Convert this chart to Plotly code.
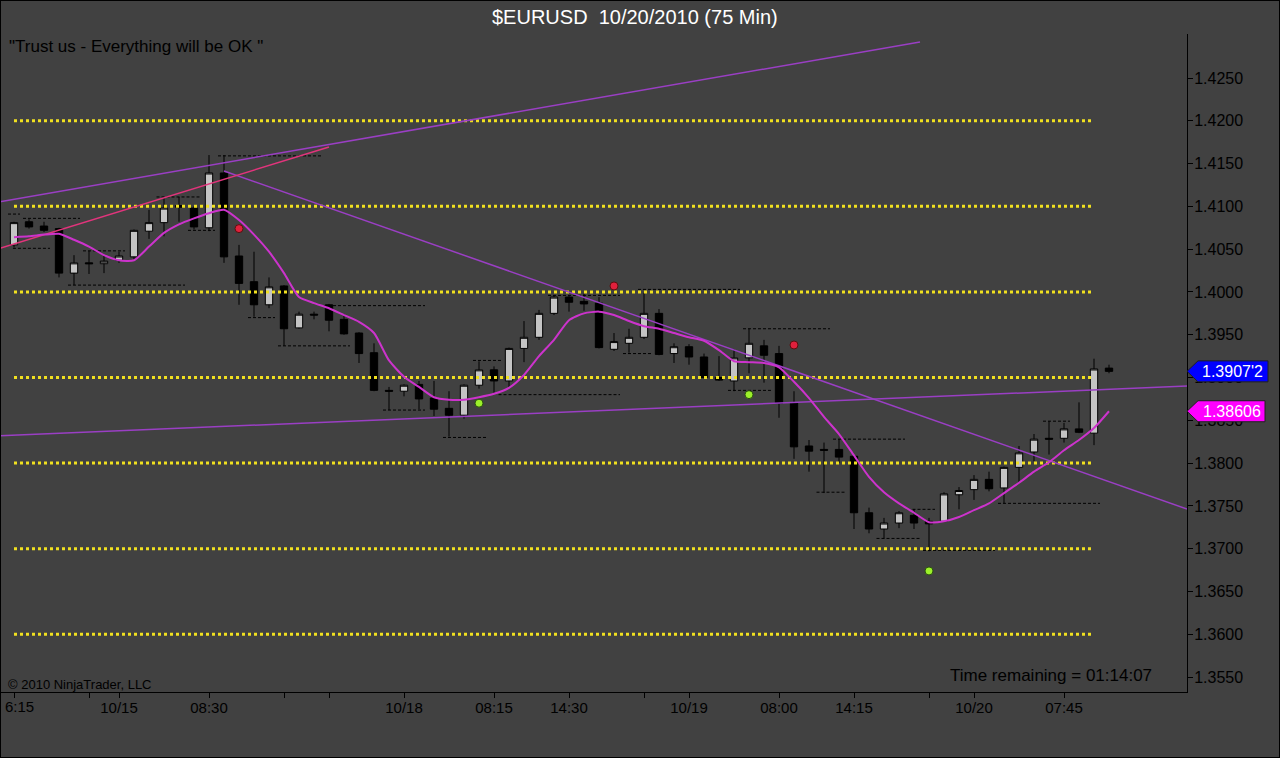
import plotly.graph_objects as go

# ---------------- data ----------------
bars = list(range(74))
opens = [1.4055, 1.4082, 1.4077, 1.4074, 1.4022, 1.4034, 1.4033, 1.4037, 1.4041, 1.4071,
         1.4081, 1.4101, 1.4098, 1.4075, 1.4139, 1.4042, 1.4012, 1.3985, 1.4007, 1.3958,
         1.3974, 1.3985, 1.3968, 1.3952, 1.3929, 1.3885, 1.3884, 1.3892, 1.3876, 1.3864,
         1.3856, 1.3891, 1.3909, 1.3896, 1.3934, 1.3947, 1.3975, 1.3994, 1.3989, 1.3987,
         1.3933, 1.3940, 1.3947, 1.3975, 1.3928, 1.3936, 1.3924, 1.3900, 1.3896, 1.3923,
         1.3937, 1.3928, 1.3870, 1.3820, 1.3816, 1.3816, 1.3808, 1.3742, 1.3723, 1.3730,
         1.3739, 1.3732, 1.3732, 1.3763, 1.3769, 1.3781, 1.3771, 1.3795, 1.3813, 1.3829,
         1.3829, 1.3840, 1.3835, 1.3911]
highs = [1.4082, 1.4085, 1.4082, 1.4075, 1.4043, 1.4048, 1.4042, 1.4047, 1.4073, 1.4096,
         1.4111, 1.4111, 1.4100, 1.4160, 1.4160, 1.4055, 1.4047, 1.4017, 1.4008, 1.3977,
         1.3977, 1.3986, 1.3974, 1.3953, 1.3940, 1.3889, 1.3892, 1.3896, 1.3896, 1.3884,
         1.3892, 1.3919, 1.3913, 1.3935, 1.3966, 1.3979, 1.3996, 1.3996, 1.3998, 1.3994,
         1.3952, 1.3957, 1.3999, 1.3980, 1.3940, 1.3939, 1.3928, 1.3925, 1.3933, 1.3957,
         1.3944, 1.3937, 1.3884, 1.3827, 1.3824, 1.3828, 1.3809, 1.3748, 1.3736, 1.3744,
         1.3746, 1.3736, 1.3766, 1.3772, 1.3786, 1.3790, 1.3796, 1.3820, 1.3834, 1.3849,
         1.3847, 1.3871, 1.3922, 1.3915]
lows = [1.4052, 1.4074, 1.4070, 1.4017, 1.4008, 1.4021, 1.4022, 1.4034, 1.4037, 1.4062,
        1.4065, 1.4082, 1.4073, 1.4071, 1.4034, 1.3985, 1.3971, 1.3981, 1.3937, 1.3957,
        1.3968, 1.3954, 1.3950, 1.3917, 1.3884, 1.3862, 1.3878, 1.3863, 1.3855, 1.3831,
        1.3852, 1.3887, 1.3882, 1.3889, 1.3918, 1.3944, 1.3973, 1.3977, 1.3978, 1.3934,
        1.3931, 1.3929, 1.3945, 1.3926, 1.3917, 1.3915, 1.3899, 1.3896, 1.3884, 1.3905,
        1.3894, 1.3853, 1.3805, 1.3790, 1.3765, 1.3800, 1.3723, 1.3718, 1.3712, 1.3724,
        1.3723, 1.3697, 1.3731, 1.3746, 1.3757, 1.3767, 1.3753, 1.3777, 1.3802, 1.3810,
        1.3824, 1.3835, 1.3821, 1.3905]
closes = [1.4081, 1.4076, 1.4072, 1.4022, 1.4034, 1.4033, 1.4036, 1.4042, 1.4072, 1.4081,
          1.4098, 1.4099, 1.4076, 1.4139, 1.4041, 1.4010, 1.3985, 1.4006, 1.3957, 1.3974,
          1.3973, 1.3967, 1.3951, 1.3928, 1.3885, 1.3884, 1.3891, 1.3875, 1.3863, 1.3856,
          1.3891, 1.3909, 1.3896, 1.3934, 1.3947, 1.3975, 1.3994, 1.3988, 1.3986, 1.3935,
          1.3942, 1.3947, 1.3975, 1.3927, 1.3936, 1.3924, 1.3900, 1.3897, 1.3923, 1.3940,
          1.3926, 1.3870, 1.3819, 1.3814, 1.3815, 1.3807, 1.3742, 1.3723, 1.3730, 1.3742,
          1.3730, 1.3729, 1.3764, 1.3768, 1.3781, 1.3770, 1.3795, 1.3812, 1.3828, 1.3828,
          1.3840, 1.3836, 1.3910, 1.39072]
ma_values = [1.4064, 1.4065, 1.4067, 1.4068, 1.4061, 1.4053, 1.4043, 1.4037, 1.4037, 1.4053,
             1.4069, 1.4079, 1.4086, 1.4092, 1.4096, 1.4084, 1.4067, 1.4047, 1.4022, 1.3994,
             1.3987, 1.3981, 1.3973, 1.3965, 1.3952, 1.3920, 1.3901, 1.3889, 1.3877, 1.3874,
             1.3874, 1.3877, 1.3881, 1.3888, 1.3903, 1.3925, 1.3944, 1.3967, 1.3975, 1.3977,
             1.3973, 1.3966, 1.3960, 1.3957, 1.3952, 1.3947, 1.3943, 1.3932, 1.3919, 1.3918,
             1.3917, 1.3912, 1.3895, 1.3876, 1.3854, 1.3834, 1.3809, 1.3784, 1.3766, 1.3753,
             1.3742, 1.3731, 1.3732, 1.3737, 1.3745, 1.3753, 1.3765, 1.3777, 1.3790, 1.3801,
             1.3815, 1.3827, 1.3841, 1.38606]

# swing dots
red_bars = [15, 40, 52]
red_prices = [1.4074, 1.4007, 1.3938]
green_bars = [31, 49, 61]
green_prices = [1.3870, 1.3880, 1.3674]

# horizontal yellow levels
yellow_levels = [1.4200, 1.4100, 1.4000, 1.3900, 1.3800, 1.3700, 1.3600]
yellow_start_bar = 0.0
yellow_end_bar = 71.9

# pivot (dashed black) segments: start bar, end bar, price
pivot_start = [-0.4, 0.6, -0.07, 4.6, 3.6, 9.5, 13.6, 11.6, 15.6, 17.6, 20.6, 24.6, 28.6, 30.6,
               32.3, 35.6, 41.6, 40.6, 48.6, 47.6, 54.6, 53.5, 57.5, 59.9, 60.6, 65.6, 68.6]
pivot_end = [0.4, 4.4, 2.4, 7.4, 11.4, 12.4, 20.5, 13.4, 17.4, 22.4, 27.4, 27.4, 31.5, 32.5,
             40.4, 40.4, 48.4, 42.5, 54.4, 50.5, 59.4, 55.5, 60.4, 61.4, 65.4, 72.4, 70.4]
pivot_price = [1.4091, 1.4086, 1.4051, 1.4048, 1.4008, 1.4111, 1.4159, 1.4072, 1.3970, 1.3937,
               1.3984, 1.3862, 1.3830, 1.3920, 1.3880, 1.3996, 1.4003, 1.3928, 1.3957, 1.3885,
               1.3828, 1.3766, 1.3712, 1.3746, 1.3698, 1.3753, 1.3849]

# trend lines (bar, price) endpoints
upper_line_bars = [-0.933, 60.4]
upper_line_prices = [1.41055, 1.42921]
lower_line_bars = [-0.933, 78.2]
lower_line_prices = [1.38319, 1.38901]
down_line_bars = [14.0, 78.2]
down_line_prices = [1.41413, 1.37464]
pink_line_bars = [-0.933, 21.0]
pink_line_prices = [1.4051, 1.41694]

# axis ticks
y_ticks = [1.3550, 1.3600, 1.3650, 1.3700, 1.3750, 1.3800, 1.3850, 1.3900, 1.3950,
           1.4000, 1.4050, 1.4100, 1.4150, 1.4200, 1.4250]
x_tick_bars = [0, 5, 7, 13, 18, 21, 26, 32, 37, 42, 45, 51, 56, 61, 64, 70]
x_tick_labels = ["", "", "10/15", "08:30", "", "", "10/18", "08:15", "14:30", "",
                 "10/19", "08:00", "14:15", "", "10/20", "07:45"]
first_tick_label = "6:15"

price_label_texts = ["1.3907'2", "1.38606"]

# ---------------- layout geometry ----------------
W, H = 1280, 758
T, B = 34, 692          # plot top / bottom pixel
R = 1187                # plot right pixel
PLOT_W = R
PLOT_H = B - T
PPX = 0.005 / 42.79     # price per pixel
Y_MAX = 1.4250 + (78 - T) * PPX
Y_MIN = 1.4250 - (B - 78) * PPX
X_MIN = -14 / 15.0
X_MAX = (R - 14) / 15.0


def px_x(p):
    return p / PLOT_W


def px_y(p):
    return (B - p) / PLOT_H


def price_to_paper(v):
    return (v - Y_MIN) / (Y_MAX - Y_MIN)


BG = "#414141"
FONT = "Arial, Liberation Sans, sans-serif"

fig = go.Figure()

# yellow dotted levels
yx, yy = [], []
for lv in yellow_levels:
    yx += [yellow_start_bar, yellow_end_bar, None]
    yy += [lv, lv, None]
fig.add_trace(go.Scatter(x=yx, y=yy, mode="lines",
                         line=dict(color="#F0E020", width=3, dash="dot"),
                         hoverinfo="skip", showlegend=False))

# pivot dashed segments
px_, py_ = [], []
for s, e, p in zip(pivot_start, pivot_end, pivot_price):
    px_ += [s, e, None]
    py_ += [p, p, None]
fig.add_trace(go.Scatter(x=px_, y=py_, mode="lines",
                         line=dict(color="#000000", width=1, dash="3px,2px"),
                         hoverinfo="skip", showlegend=False))

# candles
fig.add_trace(go.Candlestick(
    x=bars, open=opens, high=highs, low=lows, close=closes,
    increasing=dict(fillcolor="#C4C4C4", line=dict(color="#000000", width=1)),
    decreasing=dict(fillcolor="#000000", line=dict(color="#000000", width=1)),
    whiskerwidth=0, showlegend=False, hoverinfo="skip"))

# trend lines
for bx, by, col in [(upper_line_bars, upper_line_prices, "#9A3FC4"),
                    (lower_line_bars, lower_line_prices, "#9A3FC4"),
                    (down_line_bars, down_line_prices, "#9A3FC4"),
                    (pink_line_bars, pink_line_prices, "#E2347C")]:
    fig.add_trace(go.Scatter(x=bx, y=by, mode="lines", line=dict(color=col, width=1.5),
                             hoverinfo="skip", showlegend=False))

# moving average
fig.add_trace(go.Scatter(x=bars, y=ma_values, mode="lines",
                         line=dict(color="#CC33CC", width=2, shape="spline", smoothing=0.6),
                         hoverinfo="skip", showlegend=False))

# swing dots
fig.add_trace(go.Scatter(x=red_bars, y=red_prices, mode="markers",
                         marker=dict(color="#E0203C", size=8, line=dict(color="#5a1010", width=1)),
                         hoverinfo="skip", showlegend=False))
fig.add_trace(go.Scatter(x=green_bars, y=green_prices, mode="markers",
                         marker=dict(color="#9CF02A", size=8, line=dict(color="#2a5010", width=1)),
                         hoverinfo="skip", showlegend=False))

shapes = []
annotations = []

# price flags on right axis
for val, txt, col, wpx in [(closes[-1], price_label_texts[0], "#0000FF", 81),
                           (ma_values[-1], price_label_texts[1], "#FF00FF", 78)]:
    yc = price_to_paper(val)
    h = 10.5 / PLOT_H
    x0 = 1.0
    x1 = px_x(R + 11)
    x2 = px_x(R + wpx)
    path = (f"M {x0},{yc} L {x1},{yc + h} L {x2},{yc + h} L {x2},{yc - h} "
            f"L {x1},{yc - h} Z")
    shapes.append(dict(type="path", xref="paper", yref="paper", path=path,
                       fillcolor=col, line=dict(color="#202020", width=1), layer="above"))
    annotations.append(dict(xref="paper", yref="paper", x=(x1 + x2) / 2, y=yc,
                            text=txt, showarrow=False, xanchor="center", yanchor="middle",
                            font=dict(family=FONT, size=16, color="#FFFFFF")))

# outer border
shapes.append(dict(type="rect", xref="paper", yref="paper",
                   x0=px_x(0), x1=px_x(W), y0=px_y(H), y1=px_y(0),
                   line=dict(color="#000000", width=2), layer="above"))

annotations += [
    dict(xref="paper", yref="paper", x=px_x(635), y=px_y(17),
         text="$EURUSD\u00a0\u00a010/20/2010 (75 Min)", showarrow=False,
         xanchor="center", yanchor="middle", font=dict(family=FONT, size=20, color="#FFFFFF")),
    dict(xref="paper", yref="paper", x=px_x(7), y=px_y(47),
         text="\"Trust us - Everything will be OK \"", showarrow=False,
         xanchor="left", yanchor="middle", font=dict(family=FONT, size=17, color="#000000")),
    dict(xref="paper", yref="paper", x=px_x(1154), y=px_y(675),
         text="Time remaining = 01:14:07", showarrow=False,
         xanchor="right", yanchor="middle", font=dict(family=FONT, size=17, color="#000000")),
    dict(xref="paper", yref="paper", x=px_x(6), y=px_y(684),
         text="\u00a9 2010 NinjaTrader, LLC", showarrow=False,
         xanchor="left", yanchor="middle", font=dict(family=FONT, size=13, color="#000000")),
    dict(xref="paper", yref="paper", x=px_x(3), y=px_y(706),
         text=first_tick_label, showarrow=False,
         xanchor="left", yanchor="middle", font=dict(family=FONT, size=15, color="#000000")),
]

fig.update_layout(
    width=W, height=H,
    margin=dict(l=0, r=W - R, t=T, b=H - B, pad=0),
    paper_bgcolor=BG, plot_bgcolor=BG,
    showlegend=False,
    shapes=shapes, annotations=annotations,
    font=dict(family=FONT, color="#000000"),
    xaxis=dict(range=[X_MIN, X_MAX], showgrid=False, zeroline=False, automargin=False,
               showline=True, linecolor="#000000", linewidth=1,
               ticks="outside", ticklen=5, tickcolor="#000000",
               ticklabelstandoff=-3,
               tickvals=x_tick_bars, ticktext=x_tick_labels,
               tickfont=dict(family=FONT, size=15, color="#000000"),
               rangeslider=dict(visible=False)),
    yaxis=dict(range=[Y_MIN, Y_MAX], side="right", showgrid=False, zeroline=False,
               automargin=False, showline=True, linecolor="#000000", linewidth=1,
               ticks="outside", ticklen=5, tickcolor="#000000",
               ticklabelstandoff=-2,
               tickvals=y_ticks, ticktext=[f"{v:.4f}" for v in y_ticks],
               tickfont=dict(family=FONT, size=16, color="#000000")),
)

fig.write_html("out.html", config={"displayModeBar": False},
               post_script="document.body.style.margin='0';")
